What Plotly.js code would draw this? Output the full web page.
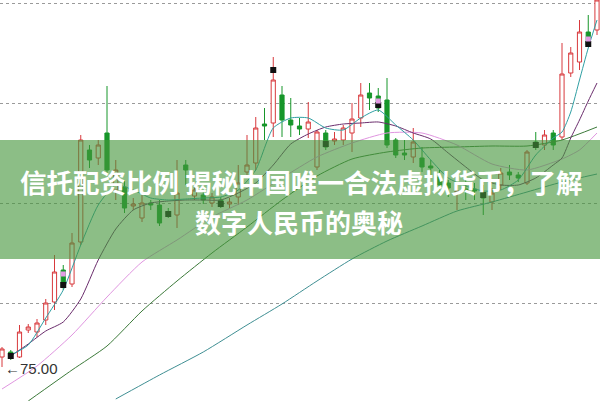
<!DOCTYPE html>
<html>
<head>
<meta charset="utf-8">
<script src="https://cdn.plot.ly/plotly-3.0.1.min.js"></script>
<style>
html,body{margin:0;padding:0;background:#fff;}
#chart{width:600px;height:401px;}
</style>
</head>
<body>
<div id="chart"></div>
<script>
// ---- candle data (index = trading day) ----
var openP  = [75.50,75.75,75.50,76.85,76.75,77.35,78.25,79.85,79.15,81.25,85.85,85.45,86.70,83.85,84.00,83.05,82.45,83.20,83.10,82.75,
              82.60,85.10,83.55,83.60,83.20,83.35,83.15,83.50,84.75,85.20,87.15,87.20,88.60,87.35,87.05,86.90,85.00,86.70,86.30,86.35,
              86.70,87.45,88.70,88.55,88.35,86.35,85.70,85.50,85.45,85.05,84.50,84.20,83.70,83.90,83.90,83.70,83.25,84.10,84.75,84.60,
              84.20,86.25,86.10,86.70,86.50,89.70,90.25,91.75,91.85];
var highP  = [76.00,75.85,77.10,77.15,77.40,78.40,80.60,80.10,81.70,86.60,86.10,86.35,89.05,85.35,84.35,83.45,83.60,83.35,83.35,82.95,
              85.35,85.35,84.05,83.80,83.70,83.50,83.45,85.10,86.60,87.50,87.95,90.50,89.05,88.45,87.45,88.25,86.85,86.85,86.75,87.10,
              88.20,89.20,89.20,88.95,89.45,86.45,86.35,86.95,86.00,85.35,84.85,84.35,84.10,84.35,84.20,84.10,83.95,84.95,85.10,84.75,
              85.85,86.75,86.85,86.85,91.20,91.00,92.35,92.60,93.60];
var lowP   = [75.00,75.35,75.45,76.70,76.50,77.10,77.85,78.85,79.00,81.10,84.95,85.10,84.60,83.35,82.70,82.85,82.25,82.85,82.05,82.45,
              81.95,84.10,83.35,83.15,83.00,82.95,82.95,83.10,84.45,84.85,86.35,86.50,86.50,86.50,86.60,86.45,84.85,85.85,86.10,86.10,
              85.75,87.00,87.85,87.75,85.95,85.45,85.35,85.20,84.75,84.50,83.85,83.50,82.85,83.35,83.35,82.60,82.85,83.85,84.35,84.25,
              84.10,85.85,85.85,85.85,86.35,89.50,89.85,91.00,91.60];
var closeP = [75.90,75.60,76.75,77.00,77.20,78.20,79.75,79.00,81.20,86.35,85.35,86.10,84.85,84.85,82.95,83.15,83.20,83.10,82.20,82.65,
              83.70,84.85,83.85,83.35,83.50,83.10,83.25,84.20,85.10,86.95,87.05,89.35,87.35,87.10,86.90,87.25,86.75,86.00,86.40,86.95,
              87.40,88.60,88.45,87.95,86.10,85.60,85.60,86.25,85.00,84.95,84.10,83.95,83.80,83.80,83.80,83.45,83.70,84.70,84.60,84.45,
              85.75,86.00,86.60,86.10,89.65,90.70,91.75,91.10,93.35];

// ---- moving average lines ----
var ma5Idx   = [1,3,5,7,9,11,13,15,17,19,21,23,25,27,29,31,33,35,37,39,41,43,45,47,49,51,53,55,57,59,61,63,64,65,66,67,68];
var ma5Val   = [75.60,76.10,77.45,78.85,81.10,83.10,84.10,83.85,83.45,83.35,83.40,83.45,83.50,83.85,84.85,86.95,87.45,87.45,86.95,86.85,
                87.45,87.85,87.10,86.35,85.35,84.45,84.05,83.80,83.85,84.35,85.60,86.45,86.75,87.75,89.35,90.95,92.35];
var ma10Idx  = [1,3,5,7,9,11,13,15,17,19,21,23,25,27,29,31,33,35,37,39,41,43,45,47,49,51,53,55,57,59,61,63,64,65,66,67,68];
var ma10Val  = [75.55,76.15,76.80,77.25,78.40,80.35,81.90,82.85,83.20,83.30,83.35,83.35,83.35,83.70,84.20,85.10,86.15,86.65,87.00,87.15,
                87.20,87.25,87.05,86.70,86.40,85.70,85.00,84.35,84.10,84.10,84.45,85.10,85.45,86.45,87.35,88.30,89.20];
var ma20Idx  = [0,4,8,12,16,20,24,28,32,36,40,44,48,52,56,60,64,66,68];
var ma20Val  = [73.90,75.05,76.60,78.50,80.25,81.35,82.50,83.35,84.45,85.50,86.20,86.70,86.70,86.10,85.15,84.85,85.40,85.85,86.70];
var ma60Idx  = [3,8,12,16,20,24,28,32,36,40,44,48,52,56,60,64,68];
var ma60Val  = [73.30,74.85,76.05,77.80,79.30,80.70,82.00,83.35,84.55,85.40,85.75,85.95,86.00,86.05,86.05,86.35,87.00];
var ma120Idx = [13,18,23,28,32,36,40,44,48,52,56,60,64,68];
var ma120Val = [73.40,74.60,75.75,77.10,78.15,79.30,80.40,81.30,82.05,82.80,83.25,83.75,84.25,84.65];

// ---- event markers on candles ----
var blackIdx = [1,7,19,25,31,37,43,55,61,67];
var blackVal = [75.55,79.10,82.65,83.15,89.85,86.15,88.10,83.60,86.10,91.15];
var pinkIdx  = [7,43,67];
var pinkVal  = [79.65,88.30,91.40];

// ---- texts ----
var lowLabel = "←75.00";
var lowLabelVal = 74.95;
var gridVals = [78.2, 83.2, 88.2, 93.2];
var titleLine1 = "信托配资比例 揭秘中国唯一合法虚拟货币，了解";
var titleLine2 = "数字人民币的奥秘";

var idx = openP.map(function(_, i){ return i; });

function maTrace(xs, ys, color){
  return {type:'scatter', mode:'lines', x:xs, y:ys, hoverinfo:'skip',
          line:{color:color, width:1, shape:'spline', smoothing:0.6}, showlegend:false};
}

var traces = [
  {type:'candlestick', x:idx, open:openP, high:highP, low:lowP, close:closeP,
   increasing:{line:{color:'#d8393c', width:1}, fillcolor:'#ffffff'},
   decreasing:{line:{color:'#17962a', width:1}, fillcolor:'#17962a'},
   whiskerwidth:0, hoverinfo:'skip', showlegend:false},
  maTrace(ma120Idx, ma120Val, '#3f8f93'),
  maTrace(ma60Idx, ma60Val, '#3c7a3a'),
  maTrace(ma20Idx, ma20Val, '#e095e0'),
  maTrace(ma10Idx, ma10Val, '#6a2c6c'),
  maTrace(ma5Idx, ma5Val, '#2f9fa3'),
  {type:'scatter', mode:'markers', x:blackIdx, y:blackVal, hoverinfo:'skip', showlegend:false,
   marker:{symbol:'square', size:6, color:'#111111'}},
  {type:'scatter', mode:'markers', x:pinkIdx, y:pinkVal, hoverinfo:'skip', showlegend:false,
   marker:{symbol:'square', size:5, color:'#e39be3'}}
];

var layout = {
  width:600, height:401,
  margin:{l:0, r:0, t:0, b:0},
  paper_bgcolor:'#ffffff', plot_bgcolor:'#ffffff',
  showlegend:false,
  boxgap:0.32,
  xaxis:{range:[-0.229, 68.343], showgrid:false, zeroline:false, showticklabels:false,
         showline:false, ticks:'', rangeslider:{visible:false}, fixedrange:true},
  yaxis:{range:[73.30, 93.35], tickvals:gridVals, showticklabels:false, zeroline:false,
         showline:false, ticks:'', gridcolor:'#9a9a9a', gridwidth:1, griddash:'dot', fixedrange:true},
  shapes:[
    {type:'rect', xref:'paper', yref:'paper', x0:0, x1:1, y0:1-259/401, y1:1-140/401,
     fillcolor:'rgba(70,150,60,0.62)', line:{width:0}, layer:'above'}
  ],
  annotations:[
    {xref:'paper', yref:'y', x:3/600, y:lowLabelVal, text:lowLabel, showarrow:false,
     xanchor:'left', yanchor:'middle', font:{family:'Liberation Sans, DejaVu Sans, sans-serif', size:15, color:'#333333'}},
    {xref:'paper', yref:'paper', x:0.503, y:1-181/401, text:titleLine1, showarrow:false,
     xanchor:'center', yanchor:'middle',
     font:{family:'Noto Sans CJK SC, sans-serif', size:26.5, color:'#ffffff', weight:'bold'}},
    {xref:'paper', yref:'paper', x:0.498, y:1-221/401, text:titleLine2, showarrow:false,
     xanchor:'center', yanchor:'middle',
     font:{family:'Noto Sans CJK SC, sans-serif', size:26, color:'#ffffff', weight:'bold'}}
  ]
};

Plotly.newPlot('chart', traces, layout, {staticPlot:true, displayModeBar:false});
</script>
</body>
</html>
